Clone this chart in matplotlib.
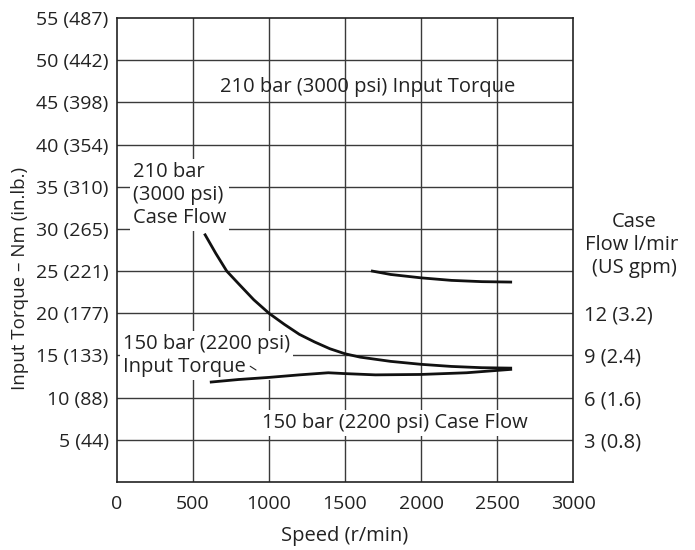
import matplotlib
matplotlib.use("Agg")
import matplotlib.pyplot as plt
from matplotlib.transforms import Bbox

plt.rcParams['font.family'] = ['Open Sans', 'DejaVu Sans']

# 210 bar (3000 psi) input torque, Nm
speed_it210 = [1680, 1800, 2000, 2200, 2400, 2590]
torque_it210 = [25.0, 24.6, 24.2, 23.9, 23.75, 23.7]

# 210 bar (3000 psi) case flow (plotted on the torque scale)
speed_cf210 = [580, 650, 722, 800, 900, 1000, 1100, 1200, 1300, 1400,
               1500, 1600, 1800, 2000, 2200, 2400, 2590]
flow_cf210 = [29.3, 27.1, 25.0, 23.5, 21.6, 20.0, 18.7, 17.5, 16.6, 15.8,
              15.2, 14.8, 14.3, 13.95, 13.7, 13.55, 13.5]

# 150 bar (2200 psi) input torque, Nm
speed_it150 = [620, 800, 1000, 1200, 1390, 1500, 1700, 2000, 2300, 2590]
torque_it150 = [11.85, 12.15, 12.4, 12.7, 12.95, 12.85, 12.7, 12.75, 12.95, 13.35]

x_ticks = [0, 500, 1000, 1500, 2000, 2500, 3000]
left_ticks = [5, 10, 15, 20, 25, 30, 35, 40, 45, 50, 55]
left_labels = ["5 (44)", "10 (88)", "15 (133)", "20 (177)", "25 (221)", "30 (265)",
               "35 (310)", "40 (354)", "45 (398)", "50 (442)", "55 (487)"]
right_ticks = [5, 10, 15, 20]
right_labels = ["3 (0.8)", "6 (1.6)", "9 (2.4)", "12 (3.2)"]

FS = 14.5
INK = '#222222'

fig = plt.figure(figsize=(6.95, 5.5), dpi=100)
ax = fig.add_axes([0.1683, 0.1236, 0.6562, 0.8437])
ax.set_xlim(0, 3000)
ax.set_ylim(0, 55)

grid_kw = dict(color='#3a3a3a', lw=1.0, zorder=1)
for x in x_ticks[1:-1]:
    ax.axvline(x, **grid_kw)
for y in left_ticks[:-1]:
    ax.axhline(y, **grid_kw)

# curves sit above the white label boxes
ax.plot(speed_it210, torque_it210, color='#111111', lw=2, zorder=3)
ax.plot(speed_cf210, flow_cf210, color='#111111', lw=2, zorder=3)
ax.plot(speed_it150, torque_it150, color='#111111', lw=2, zorder=3)

for s in ax.spines.values():
    s.set_linewidth(1.2)
    s.set_color(INK)

ax.set_xticks(x_ticks)
ax.set_xticklabels([str(v) for v in x_ticks])
ax.set_yticks(left_ticks)
ax.set_yticklabels(left_labels)
ax.tick_params(axis='both', length=0, labelsize=FS - 0.5, colors=INK)
ax.tick_params(axis='x', pad=9)
ax.tick_params(axis='y', pad=6)
ax.set_xlabel("Speed (r/min)", fontsize=FS, color=INK, labelpad=10)

ax2 = ax.twinx()
ax2.set_ylim(0, 55)
ax2.set_yticks(right_ticks)
ax2.set_yticklabels(right_labels)
ax2.tick_params(axis='y', length=0, labelsize=FS, pad=8, colors=INK)
for s in ax2.spines.values():
    s.set_visible(False)

fig.text(20 / 695, 1 - 278 / 550, "Input Torque \u2013 Nm (in.lb.)", rotation=90,
         ha='center', va='center', fontsize=FS - 1, color=INK)

txt_kw = dict(fontsize=FS, color=INK, linespacing=1.2)
box = dict(facecolor='white', edgecolor='none', pad=2)

ax.text(678, 46.8, "210 bar (3000 psi) Input Torque", ha='left', va='center', **txt_kw)
ax.text(105, 34.0, "210 bar\n(3000 psi)\nCase Flow", ha='left', va='center',
        bbox=box, zorder=2.7, **txt_kw)
ax.text(39, 15.0, "150 bar (2200 psi)\nInput Torque", ha='left', va='center',
        bbox=box, zorder=2.7, clip_on=False, **txt_kw)
ax.text(954, 7.0, "150 bar (2200 psi) Case Flow", ha='left', va='center',
        bbox=box, zorder=2.7, **txt_kw)
ax.annotate("", xy=(930, 13.1), xytext=(861, 13.9),
            arrowprops=dict(arrowstyle='-', color=INK, lw=0.8), zorder=5)

rt = fig.text(634 / 695, 1 - 245 / 550, "Case\nFlow l/min\n(US gpm)", ha='center',
              va='center', **txt_kw)
rt.set_clip_box(Bbox([[0, 0], [678, 550]]))
rt.set_clip_on(True)

fig.savefig("out.png", dpi=100)
